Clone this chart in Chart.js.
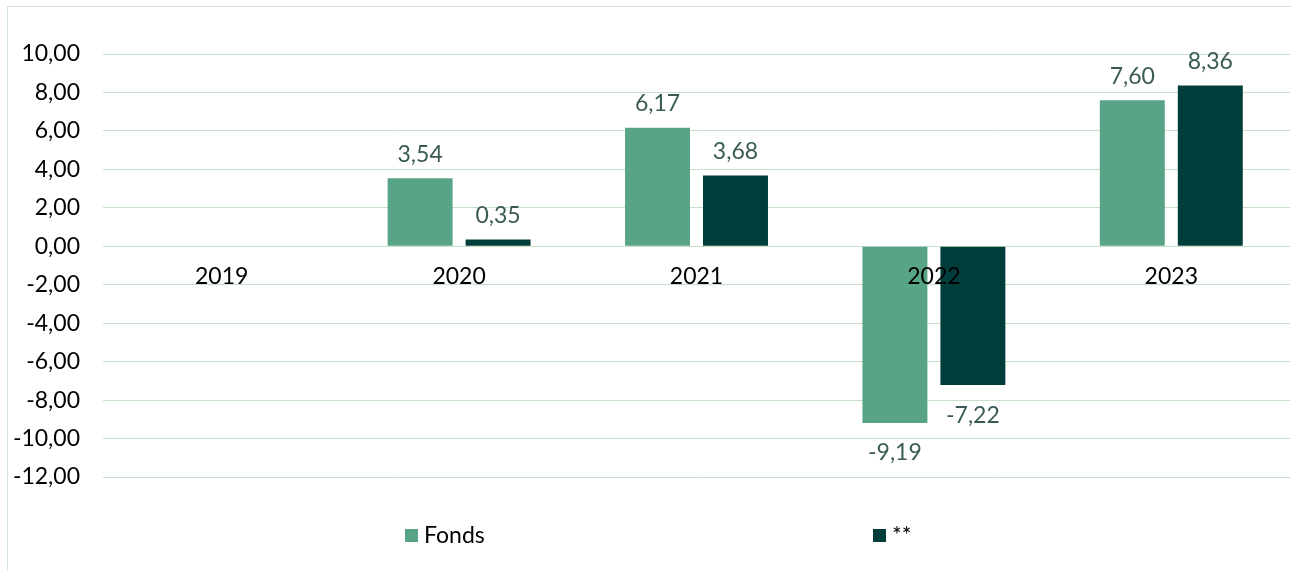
<!DOCTYPE html>
<html>
<head>
<meta charset="utf-8">
<script src="https://cdn.jsdelivr.net/npm/chart.js@4/dist/chart.umd.min.js"></script>
<style>
  html, body { margin: 0; padding: 0; background: #ffffff; }
  #wrap { position: relative; width: 1292px; height: 571px; }
</style>
</head>
<body>
<div id="wrap"><canvas id="c" width="1292" height="571"></canvas></div>
<script>
const categories = ['2019', '2020', '2021', '2022', '2023'];
const fondsValues = [null, 3.54, 6.17, -9.19, 7.60];
const benchValues = [null, 0.35, 3.68, -7.22, 8.36];
const seriesNames = ['Fonds', '**'];
const yTicks = [10, 8, 6, 4, 2, 0, -2, -4, -6, -8, -10, -12];

const COL_FONDS = '#57a486';
const COL_BENCH = '#003d3b';
const COL_GRID = '#c8dfc8';
const COL_LABEL = '#3a5c50';
const FONT = 'Lato, "Open Sans", sans-serif';
const FS = 23;

const fmt = v => v.toFixed(2).replace('.', ',');

const framePlugin = {
  id: 'frame',
  beforeDraw(chart) {
    const ctx = chart.ctx;
    ctx.save();
    ctx.strokeStyle = '#d3e5d3';
    ctx.lineWidth = 1;
    ctx.beginPath();
    ctx.moveTo(7.5, chart.height);
    ctx.lineTo(7.5, 6.5);
    ctx.lineTo(chart.width, 6.5);
    ctx.stroke();
    ctx.restore();
  }
};

const valueLabels = {
  id: 'valueLabels',
  afterDatasetsDraw(chart) {
    const ctx = chart.ctx;
    ctx.save();
    ctx.font = FS + 'px ' + FONT;
    ctx.fillStyle = COL_LABEL;
    ctx.textAlign = 'center';
    ctx.textBaseline = 'middle';
    chart.data.datasets.forEach((ds, di) => {
      const meta = chart.getDatasetMeta(di);
      meta.data.forEach((el, i) => {
        const v = ds.data[i];
        if (v === null || v === undefined) return;
        const y = v >= 0 ? el.y - 24 : el.y + 30;
        ctx.fillText(fmt(v), el.x, y);
      });
    });
    ctx.restore();
  }
};

const customLegend = {
  id: 'customLegend',
  afterDraw(chart) {
    const ctx = chart.ctx;
    const items = [
      { text: seriesNames[0], color: COL_FONDS, x: 405 },
      { text: seriesNames[1], color: COL_BENCH, x: 873 }
    ];
    ctx.save();
    ctx.font = FS + 'px ' + FONT;
    ctx.textBaseline = 'middle';
    ctx.textAlign = 'left';
    items.forEach(it => {
      ctx.fillStyle = it.color;
      ctx.fillRect(it.x, 529, 13, 13);
      ctx.fillStyle = '#000000';
      ctx.fillText(it.text, it.x + 19, 536);
    });
    ctx.restore();
  }
};

new Chart(document.getElementById('c'), {
  type: 'bar',
  data: {
    labels: categories,
    datasets: [
      { label: seriesNames[0], data: fondsValues, backgroundColor: COL_FONDS, categoryPercentage: 0.657, barPercentage: 0.833 },
      { label: seriesNames[1], data: benchValues, backgroundColor: COL_BENCH, categoryPercentage: 0.657, barPercentage: 0.833 }
    ]
  },
  options: {
    responsive: false,
    animation: false,
    layout: { padding: { left: 0, right: 2, top: 54, bottom: 94 } },
    plugins: {
      legend: { display: false },
      tooltip: { enabled: false },
      title: { display: false }
    },
    scales: {
      x: {
        position: { y: 0 },
        grid: { display: false, drawTicks: false },
        border: { display: false },
        ticks: { z: 1, color: '#000000', font: { family: FONT, size: FS }, padding: 17, maxRotation: 0 }
      },
      y: {
        min: -12,
        max: 10,
        afterFit(scale) { scale.width = 103; },
        afterBuildTicks(scale) { scale.ticks = yTicks.map(v => ({ value: v })); },
        grid: { color: COL_GRID, lineWidth: 1, drawTicks: false },
        border: { display: false },
        ticks: {
          color: '#000000',
          font: { family: FONT, size: FS },
          padding: 23,
          callback: v => fmt(v)
        }
      }
    }
  },
  plugins: [framePlugin, valueLabels, customLegend]
});
</script>
</body>
</html>
